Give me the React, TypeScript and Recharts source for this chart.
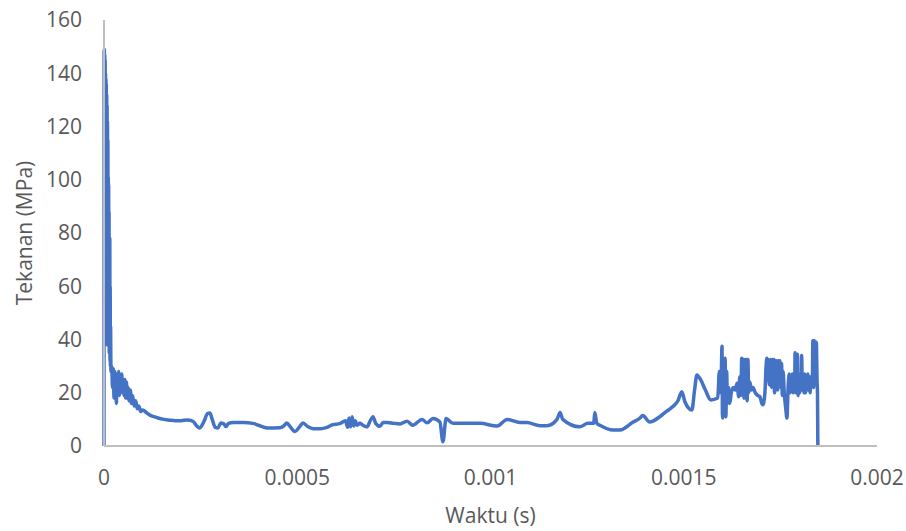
import { Line, LineChart, XAxis, YAxis } from 'recharts';

// time in microseconds
const timeMicro = [
  0, 0.3, 1, 1.5, 2, 2.5, 3, 3.5, 4, 4.5, 5, 5.5, 6, 6.5, 7, 7.5, 8, 8.5, 9, 9.5,
  10, 10.5, 11, 11.5, 12, 12.5, 13, 13.5, 14, 14.5, 15, 15.5, 16, 16.5, 17, 18,
  20, 22, 24, 26, 28, 30, 32, 34, 36, 38, 40, 42, 44, 46, 48, 50, 52, 54, 56, 58,
  60, 62, 65, 68, 71, 74, 78, 82, 86, 90, 95, 100, 110, 120, 130, 140, 155, 170,
  185, 200, 215, 230, 240, 248, 258, 268, 274, 280, 288, 295, 302, 310, 316, 322,
  335, 360, 385, 400, 422, 455, 465, 473, 482, 494, 505, 515, 528, 541, 560, 577,
  592, 610, 625, 630, 634, 638, 642, 646, 650, 655, 662, 670, 680, 690, 696, 703,
  714, 722, 732, 750, 766, 784, 799, 823, 836, 851, 869, 877, 885, 903, 973, 1017,
  1043, 1076, 1094, 1128, 1146, 1172, 1180, 1187, 1231, 1252, 1267, 1270, 1275,
  1283, 1317, 1335, 1369, 1387, 1394, 1412, 1438, 1455, 1472, 1485, 1495, 1503,
  1521, 1528, 1534, 1544, 1556, 1570, 1588, 1592, 1596, 1599, 1600, 1601, 1603,
  1605, 1607, 1609, 1611, 1613, 1616, 1619, 1623, 1628, 1633, 1638, 1642, 1645,
  1648, 1650, 1652, 1654, 1656, 1658, 1660, 1662, 1664, 1666, 1668, 1671, 1675,
  1679, 1685, 1691, 1697, 1702, 1705, 1710, 1713, 1715, 1717, 1719, 1721, 1723,
  1725, 1727, 1729, 1731, 1733, 1735, 1737, 1739, 1741, 1743, 1745, 1747, 1749,
  1751, 1753, 1755, 1757, 1760, 1764, 1767, 1770, 1773, 1775, 1777, 1779, 1781,
  1783, 1785, 1787, 1788, 1790, 1792, 1794, 1796, 1798, 1800, 1802, 1804, 1805,
  1807, 1809, 1811, 1813, 1815, 1817, 1819, 1821, 1823, 1825, 1827, 1829, 1831,
  1833, 1834, 1836, 1838, 1840, 1842, 1843, 1845, 1846, 1847,
];

// pressure in MPa
const pressure = [
  0, 148, 149, 60, 147, 45, 145, 55, 140, 40, 138, 50, 136, 60, 132, 38, 128, 55, 122, 48,
  115, 60, 101, 40, 98, 55, 88, 35, 78, 45, 78, 32, 60, 30, 45, 28,
  30, 22, 29, 18, 28, 24, 16, 27, 20, 28, 19, 26, 21, 27, 20, 25, 19, 25, 18, 24,
  18, 22, 17, 21, 16, 19, 15, 17, 14, 15, 13, 13.5, 12.5, 11.5, 11, 10.5, 10, 9.7,
  9.5, 9.5, 9.8, 9.3, 7.5, 6.8, 9, 12.2, 12.4, 10, 7, 6.8, 8.6, 8.3, 7.3, 8.5,
  8.8, 8.8, 8.5, 7.8, 6.8, 6.9, 7.5, 8.6, 7.2, 5.4, 7, 8.6, 7.2, 6.5, 6.5, 7,
  8, 8.4, 9.5, 7, 10.5, 7.2, 11, 7.5, 9.5, 7.8, 8.5, 7.8, 7.2, 9.8, 11, 8.5,
  7.4, 8.8, 8.8, 8.5, 8.3, 9.3, 7.8, 10, 8.7, 10.3, 9, 1.6, 10.3, 8.5, 8.5, 7.5,
  10, 8.8, 8.8, 7.6, 7.6, 10, 12.6, 10, 7.2, 8.5, 8.5, 12.6, 8.5,
  7.8, 6, 6, 9, 10.5, 11.5, 9, 11, 13, 14.8, 17, 20.4, 16.6,
  13.5, 21, 26.7, 24.8, 21, 17.3, 18, 28, 20, 37.5, 12, 10.5, 30,
  14, 33, 11, 28, 16, 22, 16, 20, 22, 21, 23.6, 18.5, 26,
  19, 33, 20, 32.5, 18, 32.5, 19, 32.5, 17, 32.5, 20, 24, 21,
  22, 20, 19, 18.5, 16, 15.5, 20, 30, 33, 25, 32.5, 23, 26,
  32.5, 22, 32.5, 24, 32.5, 20, 32, 25, 32, 21, 32, 23, 32,
  22, 31, 19, 28, 20, 14, 10.5, 22, 27, 20, 26, 21, 27,
  20, 25, 21, 35, 20, 26, 34.5, 19, 27, 20, 26, 21, 34,
  21, 26, 20, 27, 20, 25, 22, 27, 21, 26, 20, 26, 23,
  27, 39.5, 22, 39.5, 23, 28, 39, 24, 20, 0,
];

const timeTicks = [0, 0.0005, 0.001, 0.0015, 0.002];
const pressureTicks = [0, 20, 40, 60, 80, 100, 120, 140, 160];

const data = timeMicro.map((t, i) => ({ t: t / 1e6, p: pressure[i] }));

const font = '"Open Sans", sans-serif';
const grey = '#595959';

const YTitle = ({ viewBox }: any) => {
  const x = viewBox.x + 24;
  const y = viewBox.y + viewBox.height / 2;
  return (
    <text
      x={x}
      y={y}
      transform={`rotate(-90 ${x} ${y})`}
      textAnchor='middle'
      dominantBaseline='central'
      fill={grey}
      fontSize={21}
      fontFamily={font}
    >
      Tekanan (MPa)
    </text>
  );
};

export default function App() {
  return (
    <div style={{ position: 'absolute', left: 0, top: 0, background: '#fff' }}>
      <LineChart width={906} height={531} data={data} margin={{ top: 20, right: 29, bottom: 55, left: 0 }}>
        <XAxis
          dataKey='t'
          type='number'
          domain={[0, 0.002]}
          ticks={timeTicks}
          tickFormatter={v => String(v)}
          axisLine={{ stroke: '#BFBFBF', strokeWidth: 2 }}
          tickLine={false}
          tickMargin={18}
          height={30}
          tick={{ fill: grey, fontSize: 21, fontFamily: font }}
          label={{ value: 'Waktu (s)', position: 'bottom', offset: 32, fill: grey, fontSize: 21, fontFamily: font }}
        />
        <YAxis
          type='number'
          domain={[0, 160]}
          ticks={pressureTicks}
          axisLine={{ stroke: '#BFBFBF', strokeWidth: 2 }}
          tickLine={false}
          tickMargin={16}
          width={104}
          tick={{ fill: grey, fontSize: 21, fontFamily: font }}
          label={<YTitle />}
        />
        <Line
          type='monotone'
          dataKey='p'
          stroke='#4472C4'
          strokeWidth={3.5}
          strokeLinejoin='round'
          dot={false}
          isAnimationActive={false}
        />
      </LineChart>
    </div>
  );
}
